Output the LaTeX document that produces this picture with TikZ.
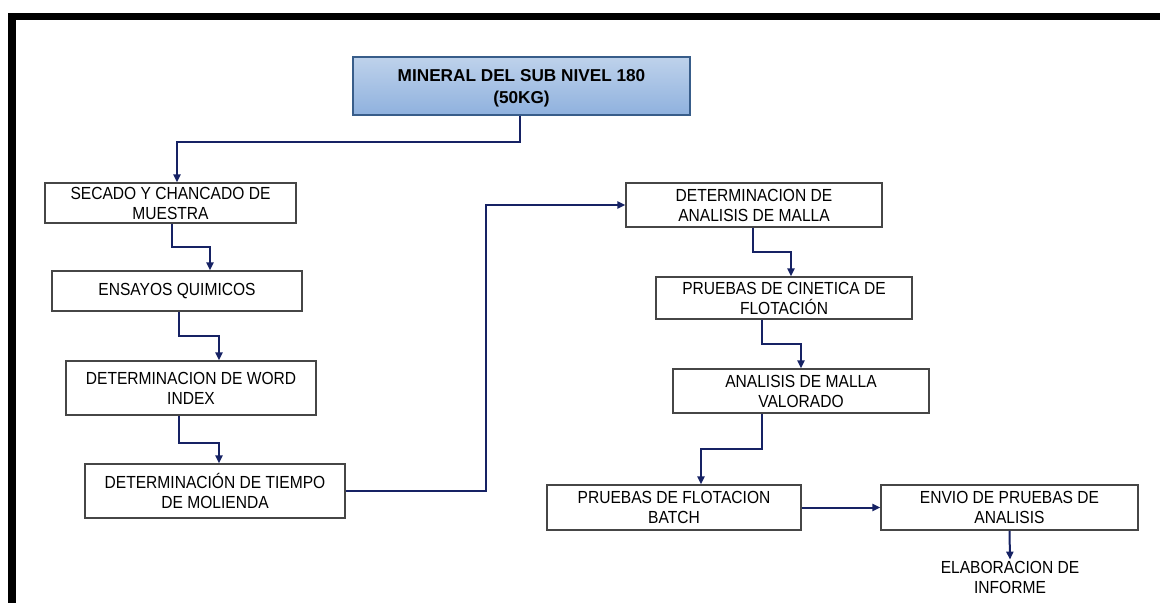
\documentclass[tikz,border=0pt]{standalone}
\usepackage{fontspec}
\setmainfont{Liberation Sans}
\newfontfamily\narrowfont[FakeStretch=0.89]{Liberation Sans}
\usetikzlibrary{
    arrows.meta,
    positioning,
    calc
}
\definecolor{Fnavy}{RGB}{22, 34, 100}
\definecolor{Fgrey}{RGB}{70, 70, 70}
\definecolor{Ftop}{RGB}{190, 210, 235}
\definecolor{Fbot}{RGB}{143, 177, 222}
\definecolor{Fedge}{RGB}{56, 93, 138}
\tikzset{
    fproc/.style={
        rectangle, draw=Fgrey, line width=1.2pt, fill=white, text=black,
        align=center, font=\narrowfont\fontsize{17.5}{20}\selectfont, inner sep=2pt
    },
    fhead/.style={
        rectangle, draw=Fedge, line width=1.2pt, top color=Ftop, bottom color=Fbot,
        text=black, align=center, font=\fontsize{17.2}{22}\selectfont\bfseries,
        minimum width=337pt, minimum height=58pt, inner sep=2pt
    },
    farr/.style={-{Triangle[length=8pt, width=7pt]}, line width=2pt, Fnavy},
}

\begin{document}
\begin{tikzpicture}[x=1pt, y=-1pt]

    \useasboundingbox (0,0) rectangle (1160,603);

    % ── marco ───────────────────────────────────────────
    \fill [black] (8,13) rectangle (16,603);
    \fill [black] (8,13) rectangle (1160,20);

    % ── nodos ───────────────────────────────────────────
    \node [fhead] (mineral) at (521.5,86) {\rule{0pt}{17pt}MINERAL DEL SUB NIVEL 180\\(50KG)};

    \node [fproc, minimum width=251pt, minimum height=40pt]
        (secado) at (170.5,203) {SECADO Y CHANCADO DE\\MUESTRA};
    \node [fproc, minimum width=250pt, minimum height=40pt]
        (ensayos) at (177,291) {ENSAYOS QUIMICOS};
    \node [fproc, minimum width=250pt, minimum height=54pt]
        (word) at (191,388) {DETERMINACION DE WORD\\INDEX};
    \node [fproc, minimum width=260pt, minimum height=54pt]
        (tiempo) at (215,491) {DETERMINACIÓN DE TIEMPO\\DE MOLIENDA};

    \node [fproc, minimum width=256pt, minimum height=44pt]
        (malla) at (754,205) {DETERMINACION DE\\ANALISIS DE MALLA};
    \node [fproc, minimum width=256pt, minimum height=42pt]
        (cinetica) at (784,298) {PRUEBAS DE CINETICA DE\\FLOTACIÓN};
    \node [fproc, minimum width=256pt, minimum height=44pt]
        (valorado) at (801,391) {ANALISIS DE MALLA\\VALORADO};
    \node [fproc, minimum width=254pt, minimum height=45pt]
        (batch) at (674,507.5) {PRUEBAS DE FLOTACION\\BATCH};
    \node [fproc, minimum width=257pt, minimum height=45pt]
        (envio) at (1009.5,507.5) {ENVIO DE PRUEBAS DE\\ANALISIS};

    \node [font=\narrowfont\fontsize{17.5}{20}\selectfont, align=center, inner sep=1pt]
        (informe) at (1010,577) {ELABORACION DE\\INFORME};

    % ── flechas ─────────────────────────────────────────
    \draw [farr] ([xshift=-1.5pt]mineral.south) -- ++(0,26) -| ([xshift=6.5pt]secado.north);
    \draw [farr] ([xshift=1.5pt]secado.south) -- ++(0,23) -| ([xshift=33pt]ensayos.north);
    \draw [farr] ([xshift=2pt]ensayos.south) -- ++(0,24) -| ([xshift=28pt]word.north);
    \draw [farr] ([xshift=-12pt]word.south) -- ++(0,27) -| ([xshift=4pt]tiempo.north);
    \draw [farr] (tiempo.east) -- ++(140,0) |- (malla.west);
    \draw [farr] ([xshift=-1pt]malla.south) -- ++(0,24) -| ([xshift=7pt]cinetica.north);
    \draw [farr] ([xshift=-22pt]cinetica.south) -- ++(0,24) -| (valorado.north);
    \draw [farr] ([xshift=-39pt]valorado.south) -- ++(0,35) -| ([xshift=27pt]batch.north);
    \draw [farr] (batch.east) -- (envio.west);
    \draw [farr] (envio.south) -- (informe.north);

\end{tikzpicture}
\end{document}
